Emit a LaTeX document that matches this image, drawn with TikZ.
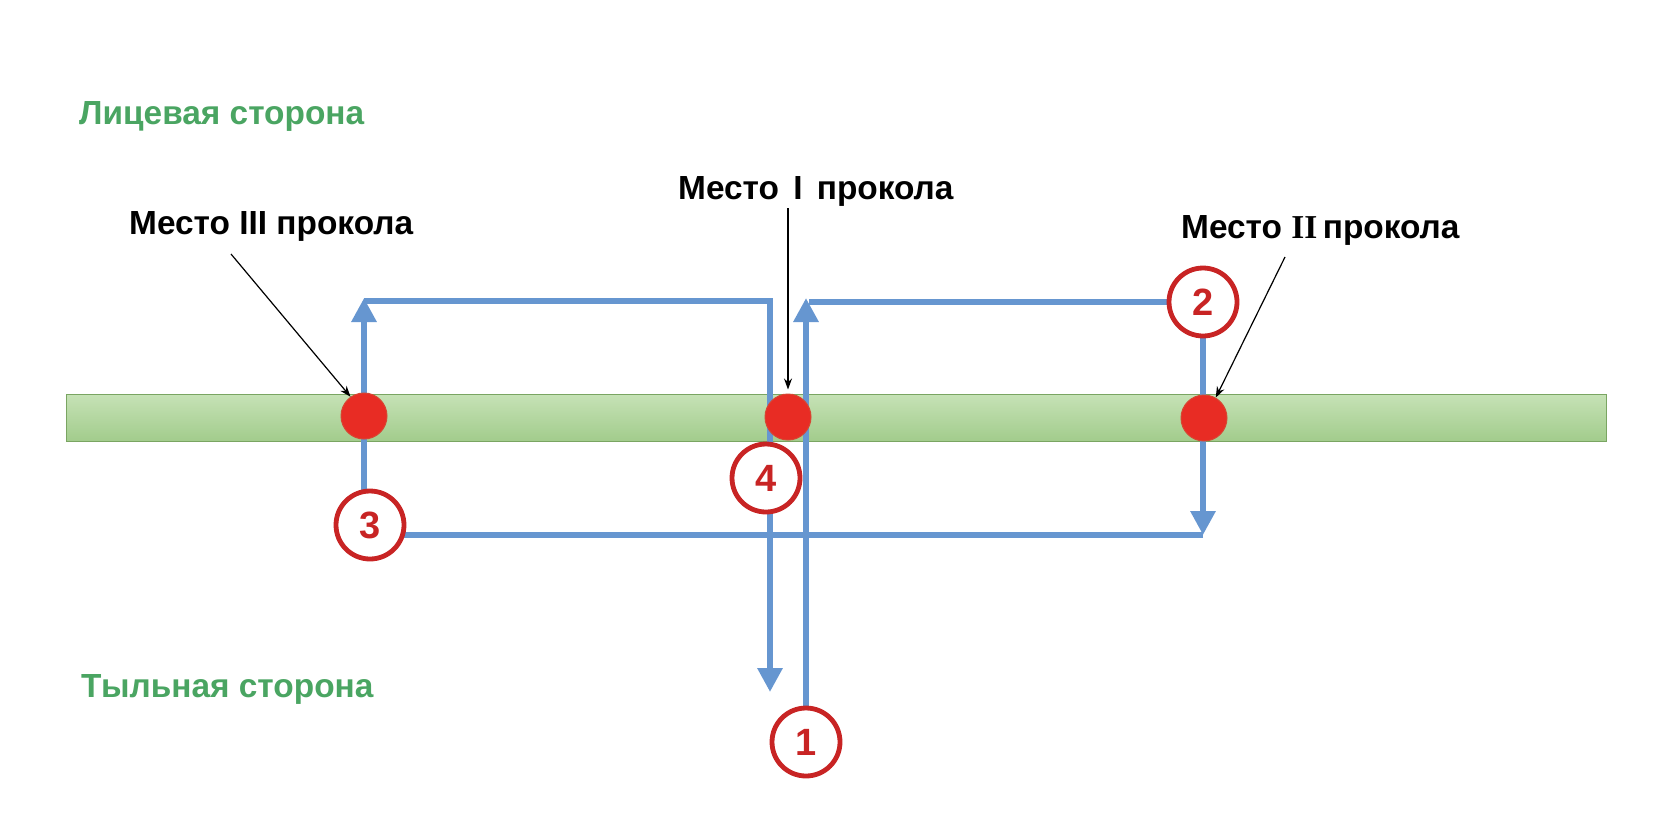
\documentclass[tikz,border=0pt]{standalone}
\usepackage{fontspec}
\setmainfont{Liberation Sans}
\newfontfamily\romserif{Liberation Serif}
\usetikzlibrary{arrows.meta,backgrounds}
\definecolor{threadblue}{RGB}{102,150,208}
\definecolor{dotred}{RGB}{232,44,36}
\definecolor{dotedge}{RGB}{215,70,50}
\definecolor{numred}{RGB}{200,36,36}
\definecolor{labgreen}{RGB}{74,165,98}
\definecolor{barTop}{RGB}{198,226,182}
\definecolor{barBot}{RGB}{162,204,140}
\definecolor{barEdge}{RGB}{122,165,98}
\begin{document}
\begin{tikzpicture}[x=1pt,y=-1pt,
  thread/.style={draw=threadblue,line width=6pt,line join=miter},
  tipup/.style={-{Triangle[width=24pt,length=24pt]}},
  numc/.style={circle,draw=numred,line width=4.8pt,fill=white,minimum size=68pt,inner sep=0pt,
    text=numred,font=\fontsize{38}{38}\selectfont\bfseries},
  pdot/.style={circle,fill=dotred,draw=dotedge,line width=1pt,minimum size=46pt,inner sep=0pt},
  pointer/.style={draw=black,line width=1.2pt,-{Stealth[length=11pt,width=8pt]}},
  sidelab/.style={anchor=base west,inner sep=0pt,text=labgreen,font=\fontsize{33.4}{38}\selectfont\bfseries},
  placelab/.style={anchor=base west,inner sep=0pt,text=black,font=\fontsize{33.4}{38}\selectfont\bfseries}]
\useasboundingbox (0,0) rectangle (1659,831);

% numbered circles
\node[numc] (n1) at (806,742) {1};
\node[numc] (n2) at (1203,302) {2};
\node[numc] (n3) at (370,525) {3};
\node[numc] (n4) at (766,478) {4};

% free ends of threads
\coordinate (t1) at (806,298);
\coordinate (h1) at (809,302);
\coordinate (b2) at (1203,535);
\coordinate (s3) at (364,525);
\coordinate (t3) at (364,298);
\coordinate (h3) at (364,301);
\coordinate (k3) at (770,301);
\coordinate (e3) at (770,692);

\begin{scope}[on background layer]
  \fill[white] (0,0) rectangle (1659,831);
  \shade[top color=barTop,bottom color=barBot,draw=barEdge,line width=1pt] (66,394) rectangle (1606,441);
  \draw[thread,tipup] (n1) -- (t1);
  \draw[thread] (h1) -- (n2);
  \draw[thread,tipup] (n2) -- (b2);
  \draw[thread] (b2) -- (n3 |- b2);
  \draw[thread,tipup] (s3) -- (t3);
  \draw[thread,tipup] (h3) -- (k3) -- (e3);
\end{scope}

% puncture points
\node[pdot] (d3) at (364,416) {};
\node[pdot] (d1) at (788,417) {};
\node[pdot] (d2) at (1204,418) {};

% labels
\node[sidelab] (face) at (79,124) {Лицевая сторона};
\node[sidelab] (back) at (81,697) {Тыльная сторона};
\node[placelab] (l3) at (129,234) {Место III прокола};
\node[placelab] (l1) at (678,199) {Место\hspace{5pt} I\hspace{5pt} прокола};
\node[placelab] (l2) at (1181,238) {Место {\romserif II}\,прокола};

% pointers
\coordinate (p1) at (788,208);
\coordinate (p2) at (1285,257);
\coordinate (p3) at (231,254);
\draw[pointer,shorten >=4pt] (p1) -- (d1.north);
\draw[pointer] (p2) -- (d2.60);
\draw[pointer] (p3) -- (d3.125);
\end{tikzpicture}
\end{document}
